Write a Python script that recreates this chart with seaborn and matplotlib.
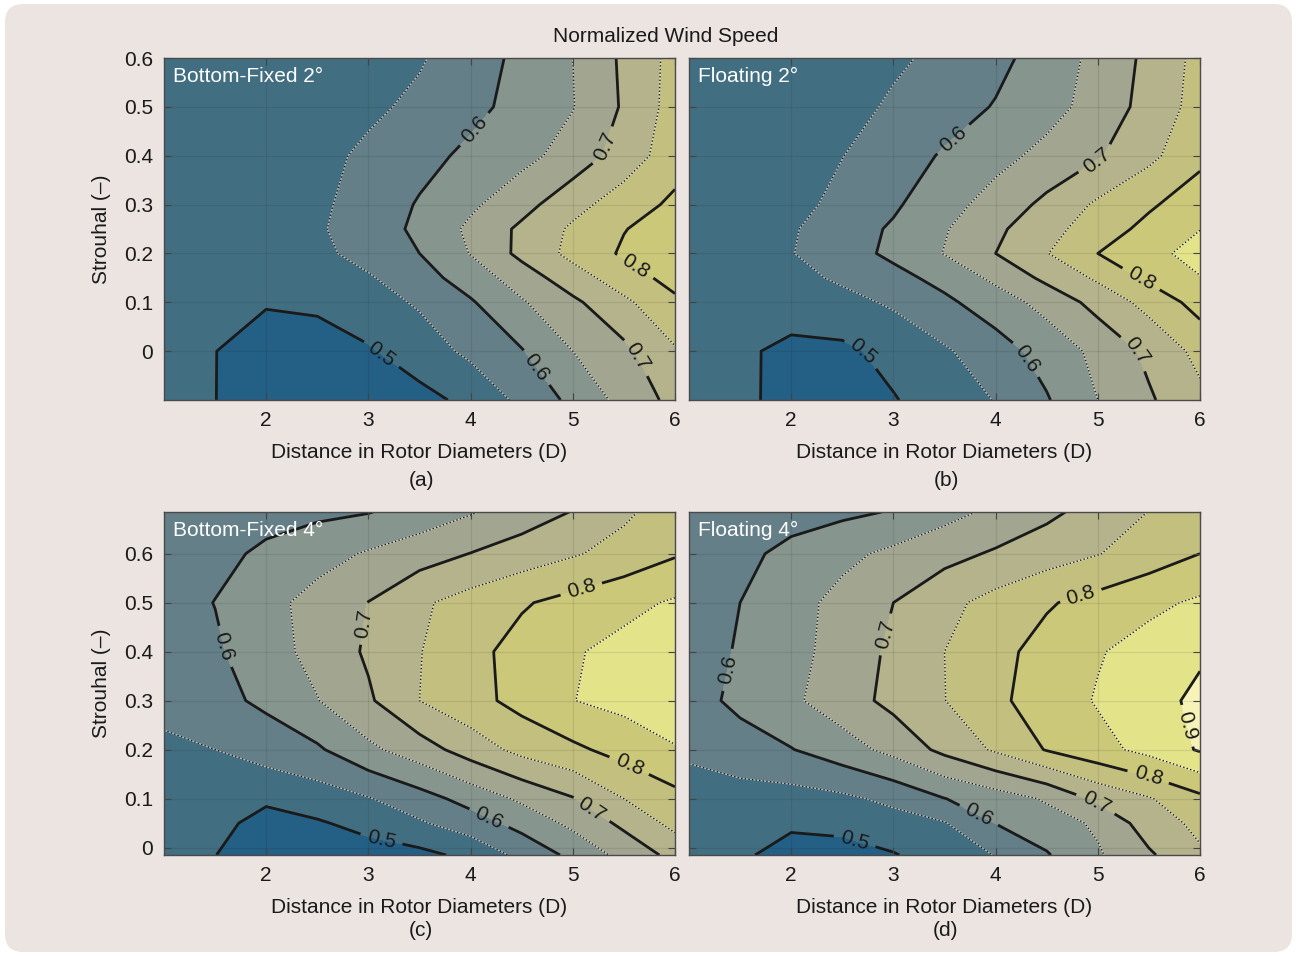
import numpy as np
import matplotlib
matplotlib.use("Agg")
import matplotlib.pyplot as plt
from matplotlib.patches import FancyBboxPatch
import seaborn as sns

# ---------------- data ----------------
X_D = [1.0, 1.5, 2.0, 2.5, 3.0, 3.5, 4.0, 4.5, 5.0, 5.5, 6.0]
ST_TOP = [-0.1, 0.0, 0.1, 0.15, 0.2, 0.25, 0.3, 0.4, 0.5, 0.6]
ST_BOTTOM = [-0.015, 0.05, 0.1, 0.2, 0.3, 0.4, 0.5, 0.6, 0.685]

# normalized wind speed, rows follow the Strouhal values, columns follow X_D
WS_BOTTOM_FIXED_2 = [
    [0.510, 0.501, 0.460, 0.455, 0.470, 0.485, 0.512, 0.562, 0.612, 0.666, 0.715],
    [0.510, 0.501, 0.470, 0.475, 0.495, 0.525, 0.561, 0.597, 0.650, 0.688, 0.745],
    [0.505, 0.505, 0.505, 0.510, 0.530, 0.556, 0.595, 0.645, 0.690, 0.740, 0.790],
    [0.505, 0.510, 0.520, 0.530, 0.545, 0.580, 0.623, 0.674, 0.728, 0.776, 0.818],
    [0.505, 0.510, 0.520, 0.538, 0.568, 0.600, 0.652, 0.713, 0.764, 0.807, 0.830],
    [0.505, 0.510, 0.520, 0.544, 0.575, 0.610, 0.660, 0.710, 0.758, 0.798, 0.825],
    [0.505, 0.510, 0.520, 0.540, 0.572, 0.604, 0.641, 0.682, 0.733, 0.775, 0.810],
    [0.510, 0.515, 0.520, 0.535, 0.560, 0.585, 0.610, 0.635, 0.670, 0.722, 0.778],
    [0.515, 0.520, 0.525, 0.530, 0.540, 0.561, 0.587, 0.616, 0.648, 0.706, 0.770],
    [0.520, 0.522, 0.525, 0.530, 0.535, 0.545, 0.577, 0.612, 0.650, 0.709, 0.766],
]
WS_FLOATING_2 = [
    [0.515, 0.510, 0.485, 0.470, 0.497, 0.524, 0.552, 0.596, 0.650, 0.694, 0.738],
    [0.510, 0.507, 0.490, 0.490, 0.515, 0.544, 0.578, 0.619, 0.663, 0.711, 0.765],
    [0.505, 0.510, 0.520, 0.535, 0.557, 0.590, 0.626, 0.667, 0.717, 0.767, 0.819],
    [0.510, 0.520, 0.535, 0.558, 0.584, 0.616, 0.661, 0.712, 0.758, 0.810, 0.848],
    [0.510, 0.525, 0.548, 0.578, 0.611, 0.652, 0.700, 0.748, 0.800, 0.835, 0.868],
    [0.510, 0.520, 0.545, 0.577, 0.606, 0.646, 0.690, 0.733, 0.775, 0.814, 0.849],
    [0.510, 0.515, 0.535, 0.563, 0.593, 0.631, 0.670, 0.712, 0.758, 0.793, 0.828],
    [0.510, 0.515, 0.525, 0.549, 0.577, 0.605, 0.634, 0.664, 0.695, 0.738, 0.787],
    [0.510, 0.515, 0.520, 0.535, 0.556, 0.579, 0.603, 0.632, 0.669, 0.718, 0.769],
    [0.515, 0.520, 0.525, 0.535, 0.543, 0.560, 0.587, 0.621, 0.664, 0.712, 0.765],
]
WS_BOTTOM_FIXED_4 = [
    [0.515, 0.501, 0.465, 0.470, 0.480, 0.487, 0.512, 0.564, 0.612, 0.666, 0.715],
    [0.515, 0.518, 0.479, 0.495, 0.515, 0.544, 0.577, 0.617, 0.662, 0.711, 0.765],
    [0.515, 0.515, 0.510, 0.525, 0.547, 0.580, 0.618, 0.659, 0.697, 0.750, 0.785],
    [0.540, 0.550, 0.572, 0.593, 0.639, 0.677, 0.723, 0.765, 0.790, 0.818, 0.847],
    [0.565, 0.585, 0.610, 0.648, 0.693, 0.750, 0.783, 0.816, 0.849, 0.865, 0.875],
    [0.575, 0.593, 0.629, 0.666, 0.707, 0.748, 0.786, 0.817, 0.845, 0.865, 0.875],
    [0.580, 0.601, 0.634, 0.668, 0.701, 0.742, 0.770, 0.795, 0.816, 0.836, 0.856],
    [0.575, 0.588, 0.608, 0.631, 0.655, 0.678, 0.701, 0.723, 0.745, 0.768, 0.795],
    [0.575, 0.580, 0.585, 0.590, 0.598, 0.620, 0.646, 0.674, 0.702, 0.741, 0.775],
]
WS_FLOATING_4 = [
    [0.515, 0.510, 0.476, 0.480, 0.497, 0.523, 0.552, 0.596, 0.644, 0.693, 0.743],
    [0.515, 0.515, 0.510, 0.515, 0.530, 0.547, 0.601, 0.627, 0.658, 0.725, 0.762],
    [0.525, 0.530, 0.530, 0.540, 0.562, 0.599, 0.625, 0.656, 0.711, 0.746, 0.788],
    [0.560, 0.578, 0.598, 0.628, 0.665, 0.713, 0.757, 0.803, 0.834, 0.865, 0.905],
    [0.580, 0.612, 0.641, 0.677, 0.714, 0.749, 0.790, 0.823, 0.854, 0.875, 0.915],
    [0.580, 0.604, 0.634, 0.669, 0.710, 0.750, 0.786, 0.817, 0.846, 0.870, 0.890],
    [0.580, 0.600, 0.632, 0.665, 0.700, 0.736, 0.767, 0.795, 0.817, 0.838, 0.858],
    [0.570, 0.588, 0.6125, 0.6375, 0.661, 0.684, 0.706, 0.727, 0.748, 0.774, 0.800],
    [0.570, 0.575, 0.582, 0.590, 0.603, 0.633, 0.661, 0.689, 0.719, 0.751, 0.780],
]

PANEL_NAMES = ["Bottom-Fixed 2°", "Floating 2°", "Bottom-Fixed 4°", "Floating 4°"]
PANEL_LETTERS = ["(a)", "(b)", "(c)", "(d)"]
X_TICKS = [2, 3, 4, 5, 6]
X_TICK_LABELS = ["2", "3", "4", "5", "6"]
Y_TICKS = [0, 0.1, 0.2, 0.3, 0.4, 0.5, 0.6]
Y_TICK_LABELS = ["0", "0.1", "0.2", "0.3", "0.4", "0.5", "0.6"]
TITLE = "Normalized Wind Speed"
X_LABEL = "Distance in Rotor Diameters (D)"
Y_LABEL = "Strouhal (–)"

LEVELS = [0.40, 0.50, 0.55, 0.60, 0.65, 0.70, 0.75, 0.80, 0.85, 0.90, 1.00]
SOLID_LEVELS = [0.5, 0.6, 0.7, 0.8, 0.9]
DOTTED_LEVELS = [0.55, 0.65, 0.75, 0.85]

# ---------------- style ----------------
BAND_COLORS = ["#245f86", "#416e81", "#647f88", "#87958f", "#a2a58f",
               "#b4b38b", "#c3c07f", "#ccc87a", "#e3e38a", "#f7f3b8"]
BG = "#ebe4e1"
W, H = 1297, 956

sns.set_theme(style="white")
plt.rcParams["font.family"] = ["Liberation Sans", "DejaVu Sans"]
plt.rcParams["text.color"] = "#1a1a1a"
plt.rcParams["axes.labelcolor"] = "#1a1a1a"

fig = plt.figure(figsize=(W / 100, H / 100), dpi=100)
fig.patch.set_facecolor("white")
fig.patches.append(FancyBboxPatch((5 / W, 4 / H), 1287 / W, 948 / H,
                                  boxstyle="round,pad=0,rounding_size=0.014",
                                  mutation_aspect=W / H,
                                  transform=fig.transFigure, facecolor=BG,
                                  edgecolor="none", zorder=-10))

def px_axes(l, t, r, b):
    return [l / W, 1 - b / H, (r - l) / W, (b - t) / H]

AX_BOXES = [(164, 58, 675, 400), (689, 58, 1200, 400),
            (164, 512, 675, 855), (689, 512, 1200, 855)]
LETTER_POS = [(421, 480), (946, 480), (421, 931), (946, 931)]

LABEL_SPOTS = [
    [(4.06, 0.45), (5.29, 0.42), (5.6, 0.17), (4.67, -0.03), (5.65, -0.01), (3.15, 0.0)],
    [(2.71, 0.0), (3.56, 0.44), (4.99, 0.39), (5.43, 0.15), (4.35, -0.01), (5.45, 0.01)],
    [(1.59, 0.41), (2.88, 0.46), (3.13, 0.02), (5.08, 0.53), (5.58, 0.18), (5.19, 0.08), (4.18, 0.06)],
    [(1.44, 0.36), (2.83, 0.44), (2.63, 0.02), (4.84, 0.51), (5.5, 0.15), (4.98, 0.09), (3.82, 0.06), (5.9, 0.25)],
]

datasets = [(WS_BOTTOM_FIXED_2, ST_TOP), (WS_FLOATING_2, ST_TOP),
            (WS_BOTTOM_FIXED_4, ST_BOTTOM), (WS_FLOATING_4, ST_BOTTOM)]
ylims = [(-0.1, 0.6), (-0.1, 0.6), (-0.015, 0.685), (-0.015, 0.685)]

palette = sns.color_palette(BAND_COLORS)

for i, ((Z, ys), box) in enumerate(zip(datasets, AX_BOXES)):
    ax = fig.add_axes(px_axes(*box))
    Zarr = np.array(Z)
    ax.contourf(X_D, ys, Zarr, levels=LEVELS, colors=palette)
    ax.contour(X_D, ys, Zarr, levels=DOTTED_LEVELS, colors="white",
               linewidths=1.0, alpha=0.45)
    ax.contour(X_D, ys, Zarr, levels=DOTTED_LEVELS, colors="#1a1a1a",
               linewidths=1.0, linestyles=[(0, (1, 1.6))])
    cs = ax.contour(X_D, ys, Zarr, levels=SOLID_LEVELS, colors="#1a1a1a",
                    linewidths=2.0)
    ax.clabel(cs, fmt="%.1f", fontsize=15, inline=True, inline_spacing=7,
              manual=LABEL_SPOTS[i])

    ax.set_xlim(1, 6)
    ax.set_ylim(*ylims[i])
    ax.set_xticks(X_TICKS)
    ax.set_xticklabels(X_TICK_LABELS)
    ax.set_yticks(Y_TICKS)
    if i % 2 == 0:
        ax.set_yticklabels(Y_TICK_LABELS)
        ax.set_ylabel(Y_LABEL, fontsize=15, labelpad=9)
    else:
        ax.set_yticklabels([])
    ax.set_xlabel(X_LABEL, fontsize=15, labelpad=9)
    ax.tick_params(direction="in", length=5, width=0.8, color="#444444",
                   labelsize=15, pad=8, top=True, right=True,
                   bottom=True, left=True, labelcolor="#1a1a1a")
    ax.grid(True, color="#1a1a1a", alpha=0.1, linewidth=0.9)
    ax.set_axisbelow(False)
    for sp in ax.spines.values():
        sp.set_color("#4a4a4a")
        sp.set_linewidth(1.0)
        sp.set_zorder(5)
    ax.text(0.018, 0.947, PANEL_NAMES[i], transform=ax.transAxes,
            color="white", fontsize=15, ha="left", va="center", zorder=6)
    lx, ly = LETTER_POS[i]
    fig.text(lx / W, 1 - ly / H, PANEL_LETTERS[i], fontsize=15,
             ha="center", va="center")

fig.text(666 / W, 1 - 36 / H, TITLE, fontsize=15, ha="center", va="center")

fig.savefig("out.png", dpi=100, facecolor=fig.get_facecolor())
